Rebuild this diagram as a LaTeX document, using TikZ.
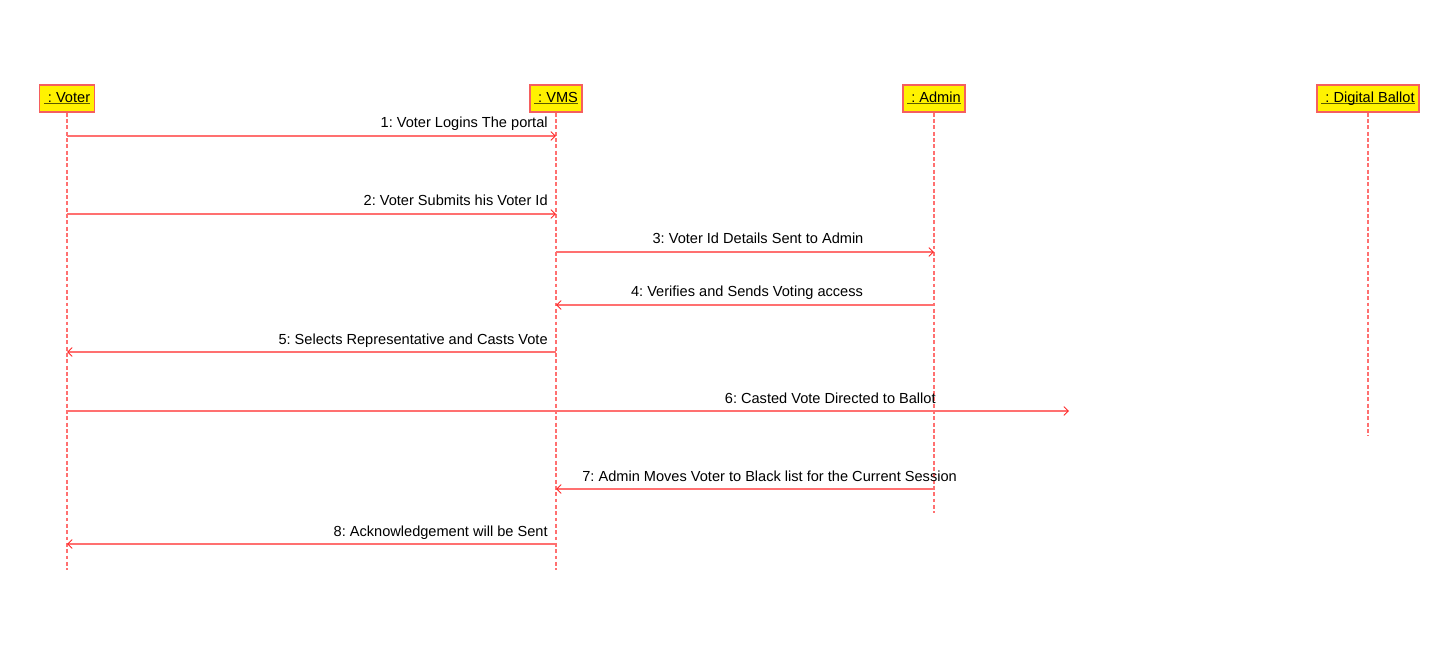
\documentclass[tikz,border=0pt]{standalone}
\usepackage{fontspec}
\setmainfont{Liberation Sans}
\usepackage{xcolor}
\usetikzlibrary{positioning, calc, arrows.meta}

\definecolor{lineRed}{RGB}{255,112,112}
\definecolor{boxRed}{RGB}{245,95,95}
\definecolor{tipRed}{RGB}{255,40,40}
\definecolor{ulineOlive}{RGB}{90,90,0}

% underlined object name, rule just under the baseline
\newcommand{\objname}[1]{\setbox0\hbox{#1}%
  \rlap{\textcolor{ulineOlive}{\rule[-1.1pt]{\wd0}{0.6pt}}}\box0}

\tikzset{
  object/.style={draw=boxRed, fill=yellow, line width=0.9pt, inner xsep=2.5pt,
                 minimum height=0.54cm, text height=6.2pt, text depth=1.6pt,
                 font=\fontsize{8.3}{10}\selectfont},
  lifeline/.style={draw=lineRed, line width=0.6pt, dash pattern=on 2.2pt off 1.4pt},
  msg/.style={draw=lineRed, line width=0.6pt,
              -{Straight Barb[length=2.6pt,width=5pt,line width=0.5pt,color=tipRed]}},
  msglabel/.style={inner sep=0pt, font=\fontsize{8.3}{10}\selectfont}
}

\begin{document}
\frenchspacing
\begin{tikzpicture}[x=0.02cm, y=-0.02cm]
        \useasboundingbox (0,0) rectangle (1453,658);

        % ==========================================
        % Objects
        % ==========================================
        \node[object] (voter) at (67,98.5) {\objname{\ : Voter}};
        \node[object] (vms) at (556,98.5) {\objname{\ : VMS}};
        \node[object] (admin) at (934,98.5) {\objname{\ : Admin}};
        \node[object] (ballot) at (1368,98.5) {\objname{\ : Digital Ballot}};

        % ==========================================
        % Lifelines
        % ==========================================
        \coordinate (voterEnd) at (67,570);
        \coordinate (vmsEnd) at (556,570);
        \coordinate (adminEnd) at (934,513);
        \coordinate (ballotEnd) at (1368,436);
        \draw[lifeline] (voter.south) -- (voterEnd);
        \draw[lifeline] (vms.south) -- (vmsEnd);
        \draw[lifeline] (admin.south) -- (adminEnd);
        \draw[lifeline] (ballot.south) -- (ballotEnd);

        % ==========================================
        % Messages
        % ==========================================
        \draw[msg] (voter |- 0,136) -- (vms |- 0,136);
        \node[msglabel, anchor=base east] (m1) at (548,128) {1: Voter Logins The portal};

        \draw[msg] (voter |- 0,214) -- (vms |- 0,214);
        \node[msglabel, anchor=base east] (m2) at (548,206) {2: Voter Submits his Voter Id};

        \draw[msg] (vms |- 0,252) -- (admin |- 0,252);
        \node[msglabel, anchor=base] (m3) at (758,244) {3: Voter Id Details Sent to Admin};

        \draw[msg] (admin |- 0,305) -- (vms |- 0,305);
        \node[msglabel, anchor=base] (m4) at (747,297) {4: Verifies and Sends Voting access};

        \draw[msg] (vms |- 0,352) -- (voter |- 0,352);
        \node[msglabel, anchor=base east] (m5) at (548,344) {5: Selects Representative and Casts Vote};

        % message 6 ends short of the ballot lifeline
        \coordinate (castEnd) at (1069,411);
        \draw[msg] (voter |- castEnd) -- (castEnd);
        \node[msglabel, anchor=base east] (m6) at (936,403) {6: Casted Vote Directed to Ballot};

        \draw[msg] (admin |- 0,489) -- (vms |- 0,489);
        \node[msglabel, anchor=base west] (m7) at (582,481) {7: Admin Moves Voter to Black list for the Current Session};

        \draw[msg] (vms |- 0,544) -- (voter |- 0,544);
        \node[msglabel, anchor=base east] (m8) at (548,536) {8: Acknowledgement will be Sent};

\end{tikzpicture}
\end{document}
